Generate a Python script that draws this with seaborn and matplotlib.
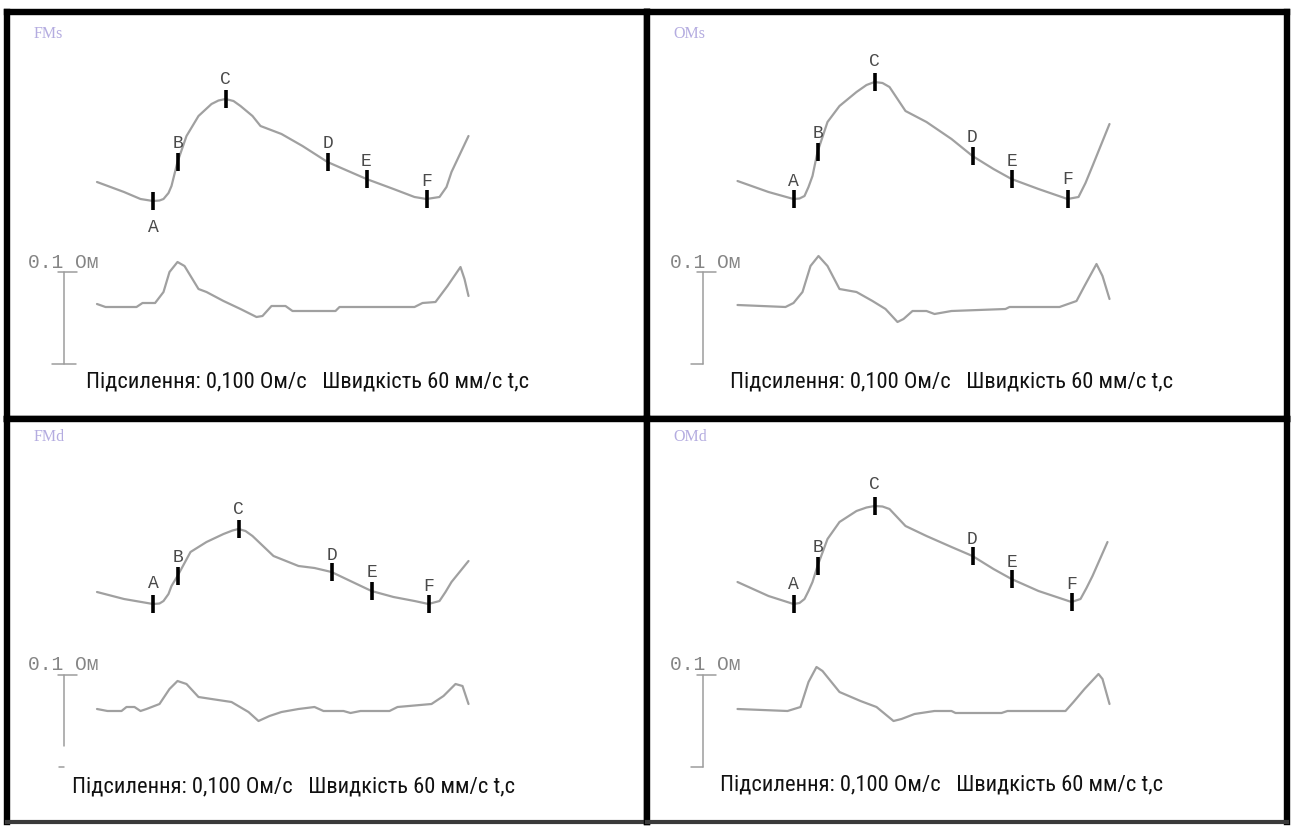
import numpy as np
import pandas as pd
import matplotlib
matplotlib.use("Agg")
import matplotlib.pyplot as plt
import seaborn as sns
from matplotlib import font_manager

# ------------------------------------------------------------------
# Data (time units ~ px, amplitude units ~ px)
# ------------------------------------------------------------------
panel_names = ["FMs", "OMs", "FMd", "OMd"]
point_labels = ["A", "B", "C", "D", "E", "F"]
caption = "Підсилення: 0,100 Ом/с   Швидкість 60 мм/с t,c"
scale_label = "0.1 Ом"

# FMs (top-left)
fms_rheo_t = [90.5, 117.5, 134, 146.5, 153, 157, 162, 165, 171, 180, 192, 205, 212, 219, 227, 234, 246, 254, 275, 296, 321, 337, 360, 387, 408, 420, 433, 440, 445, 462]
fms_rheo_v = [237, 227, 220, 218, 218.5, 220, 226, 233, 257, 283, 303, 315, 318.5, 320, 318, 313, 303, 293, 285, 273, 257, 250, 240, 230, 222, 220, 222, 232, 247, 283]
fms_mark_t = [146.5, 171, 219, 321, 360, 420]
fms_mark_v = [218, 257, 320, 257, 240, 220]
fms_diff_t = [90.5, 99, 130, 136, 148.6, 157, 163, 171, 178, 192, 200, 217, 234, 250, 256, 265, 279, 286, 329, 333, 408, 416, 429, 441, 454, 458, 462]
fms_diff_v = [115, 112, 112, 116, 116, 127, 147, 157, 153, 130, 127, 118, 110, 102, 103, 113, 113, 108, 108, 112, 112, 116, 117, 133, 152, 140, 123]

# OMs (top-right)
oms_rheo_t = [91, 122, 147, 153, 158, 162, 166, 171, 181, 193, 210, 220, 228, 236, 243, 259, 280, 305, 326, 347, 365, 392, 421, 432, 439, 446, 463]
oms_rheo_v = [238, 227, 220, 220.5, 223, 232, 243, 267, 297, 313, 327, 334, 337, 336, 332, 308, 297, 280, 263, 250, 240, 230, 220, 222, 236, 253, 295]
oms_mark_t = [147, 171, 228, 326, 365, 421]
oms_mark_v = [220, 267, 337, 263, 240, 220]
oms_diff_t = [91, 139, 147, 156, 164, 172, 181, 193, 210, 226, 239, 251, 257, 266, 280, 288, 305, 359, 363, 413, 430, 438, 450, 456, 463]
oms_diff_v = [114, 112, 116, 127, 153, 163, 153, 130, 127, 118, 110, 97, 100, 108, 108, 105, 108, 110, 112, 112, 118, 133, 155, 143, 120]

# FMd (bottom-left)
fmd_rheo_t = [90.5, 117.5, 146.5, 153, 157, 162, 165, 171, 184, 200, 217, 226, 232, 239, 246, 267, 292, 308, 325, 346, 365, 387, 408, 422, 433, 439, 445, 462]
fmd_rheo_v = [230, 223, 218, 218.5, 221, 228, 236, 246, 270, 280, 288, 291.5, 293, 291, 286, 266, 256, 254, 250, 240, 231, 225, 221, 218, 221, 230, 240, 261]
fmd_mark_t = [146.5, 171, 232, 325, 365, 422]
fmd_mark_v = [218, 246, 293, 250, 231, 218]
fmd_diff_t = [90.5, 101, 115, 120, 128, 134, 140, 153, 163, 171, 180, 192, 205, 225, 242, 252, 263, 275, 292, 308, 317, 337, 344, 354, 383, 391, 425, 437, 449, 456, 462]
fmd_diff_v = [113, 111, 111, 115, 115, 111, 113, 118, 133, 141, 138, 125, 123, 120, 110, 101, 106, 110, 113, 115, 111, 111, 109, 111, 111, 115, 118, 126, 138, 136, 118]

# OMd (bottom-right)
omd_rheo_t = [91, 122, 147, 153, 158, 162, 166, 171, 181, 193, 210, 220, 228, 236, 243, 259, 280, 305, 326, 347, 365, 392, 425, 434, 440, 446, 461]
omd_rheo_v = [240, 226, 218, 219, 223, 231, 240, 256, 283, 300, 311, 314.5, 316, 315.5, 313, 296, 286, 275, 266, 253, 243, 231, 220, 223, 234, 246, 280]
omd_mark_t = [147, 171, 228, 326, 365, 425]
omd_mark_v = [218, 256, 316, 266, 243, 220]
omd_diff_t = [91, 141, 154, 162, 170, 176, 193, 214, 230, 247, 255, 268, 288, 305, 309, 355, 361, 419, 427, 438, 452, 456, 463]
omd_diff_v = [113, 111, 115, 140, 155, 151, 130, 121, 115, 101, 103, 108, 111, 111, 109, 109, 111, 111, 120, 133, 148, 143, 118]

# ------------------------------------------------------------------
# Layout / style
# ------------------------------------------------------------------
W_PX, H_PX = 1293, 829
sns.set_style("white")

available = {f.name for f in font_manager.fontManager.ttflist}
def pick(*names):
    for n in names:
        if n in available:
            return n
    return "DejaVu Sans"

COND = pick("Liberation Sans Narrow", "Roboto Condensed", "Open Sans Condensed", "Lato", "Roboto")
MONO = pick("Liberation Mono", "DejaVu Sans Mono")
SERIF = pick("Liberation Serif", "DejaVu Serif")
plt.rcParams["font.family"] = [COND, "DejaVu Sans"]

fig = plt.figure(figsize=(W_PX / 100, H_PX / 100), dpi=100)
fig.patch.set_facecolor("white")

# panel rectangles in pixels: (left, top, right, bottom)
rects = [(6.5, 13, 646.5, 420), (646.5, 13, 1287, 420),
         (6.5, 420, 646.5, 823), (646.5, 420, 1287, 823)]

panels = [
    (fms_rheo_t, fms_rheo_v, fms_mark_t, fms_mark_v, fms_diff_t, fms_diff_v),
    (oms_rheo_t, oms_rheo_v, oms_mark_t, oms_mark_v, oms_diff_t, oms_diff_v),
    (fmd_rheo_t, fmd_rheo_v, fmd_mark_t, fmd_mark_v, fmd_diff_t, fmd_diff_v),
    (omd_rheo_t, omd_rheo_v, omd_mark_t, omd_mark_v, omd_diff_t, omd_diff_v),
]

# label offsets in px (positive = above)
label_offsets = [[-26, 20, 21, 19, 18, 18], [19, 20, 22, 20, 18, 20],
                 [21, 20, 21, 18, 19, 18], [20, 20, 22, 18, 17, 18]]
caption_pos = [(80, 38), (83, 38), (66, 36), (73, 38)]
scale_x = [57, 56, 57, 56]
scale_lbl_x = [22, 23, 22, 23]

CURVE = "#a0a0a0"
texts_to_fit = []

for i, (rect, data) in enumerate(zip(rects, panels)):
    l, t, r, b = rect
    ax = fig.add_axes([l / W_PX, (H_PX - b) / H_PX, (r - l) / W_PX, (b - t) / H_PX])
    ax.set_xlim(0, r - l)
    ax.set_ylim(0, b - t)
    ax.set_xticks([]); ax.set_yticks([])
    ax.set_facecolor("white")
    for side, sp in ax.spines.items():
        sp.set_visible(True)
        sp.set_color("black")
        sp.set_linewidth(4.6)
    if i >= 2:
        ax.spines["bottom"].set_linewidth(3)
        ax.spines["bottom"].set_color("#3a3a3a")

    rt, rv, mt, mv, dt, dv = data
    sns.lineplot(x=rt, y=rv, ax=ax, color=CURVE, linewidth=1.6, sort=False, estimator=None)
    sns.lineplot(x=dt, y=dv, ax=ax, color=CURVE, linewidth=1.6, sort=False, estimator=None)
    sns.scatterplot(x=mt, y=mv, ax=ax, marker="|", s=150, linewidth=2.6, color="black", zorder=5)
    for lbl, x, y, off in zip(point_labels, mt, mv, label_offsets[i]):
        ax.annotate(lbl, (x, y), xytext=(0, off * 0.72), textcoords="offset points",
                    ha="center", va="center", fontsize=13, family=MONO, color="#4a4a4a")

    # panel tag
    ax.text(27, 386, panel_names[i], ha="left", va="center", fontsize=11.5,
            family=SERIF, color="#b4ace0")

    # amplitude scale bar
    sx = scale_x[i]
    gray = "#9c9c9c"
    if i == 2:
        ax.plot([sx, sx], [147, 76], color=gray, lw=1.1)
        ax.plot([sx - 5, sx], [55, 55], color=gray, lw=1.1)
    else:
        ax.plot([sx, sx], [147, 55], color=gray, lw=1.1)
        ax.plot([sx - 12, sx + (12 if i == 0 else 0)], [55, 55], color=gray, lw=1.1)
    ax.plot([sx - 6, sx + 13], [147, 147], color=gray, lw=1.1)
    st = ax.text(scale_lbl_x[i], 158, scale_label, ha="left", va="center",
                 fontsize=13, family=MONO, color="#858585")
    texts_to_fit.append((st, 70))

    cx, cy = caption_pos[i]
    ct = ax.text(cx, cy, caption, ha="left", va="center", fontsize=14.5,
                 family=[COND, "DejaVu Sans"], color="#111111")
    texts_to_fit.append((ct, 442))

# fit text widths to the reference
fig.canvas.draw()
renderer = fig.canvas.get_renderer()
for txt, target in texts_to_fit:
    w = txt.get_window_extent(renderer).width
    if w > 0:
        txt.set_fontsize(txt.get_fontsize() * target / w)

fig.savefig("out.png", dpi=100, facecolor="white")
